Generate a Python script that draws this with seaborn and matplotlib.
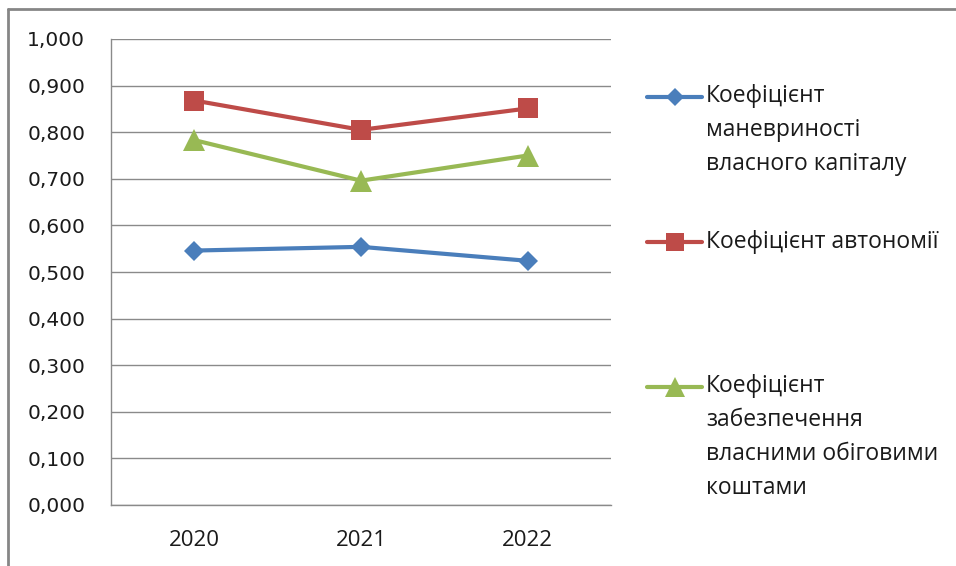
import matplotlib
matplotlib.use("Agg")
import matplotlib.pyplot as plt
from matplotlib.lines import Line2D
from matplotlib.ticker import FuncFormatter, FixedLocator
import seaborn as sns
import pandas as pd

years = ["2020", "2021", "2022"]
series_names = [
    "Коефіцієнт\nманевриності\nвласного капіталу",
    "Коефіцієнт автономії",
    "Коефіцієнт\nзабезпечення\nвласними обіговими\nкоштами",
]
manevr = [0.546, 0.554, 0.524]
avtonom = [0.868, 0.805, 0.851]
zabezp = [0.783, 0.696, 0.750]
y_ticks = [0.0, 0.1, 0.2, 0.3, 0.4, 0.5, 0.6, 0.7, 0.8, 0.9, 1.0]

colors = ["#4A7EBB", "#BE4B48", "#98B954"]
markers = ["D", "s", "^"]
msizes = [10.5, 14.5, 15.5]

sns.set_style("white")
plt.rcParams["font.family"] = ["Open Sans", "DejaVu Sans"]

rows = []
for name, vals in zip(series_names, [manevr, avtonom, zabezp]):
    for yr, v in zip(years, vals):
        rows.append({"year": yr, "value": v, "series": name})
df = pd.DataFrame(rows)

W, H = 956, 566
fig = plt.figure(figsize=(W / 100, H / 100), dpi=100)
ax = fig.add_axes([111 / W, 1 - 505 / H, 500 / W, 466 / H])

for i, name in enumerate(series_names):
    sub = df[df["series"] == name]
    sns.lineplot(data=sub, x="year", y="value", ax=ax, color=colors[i],
                 marker=markers[i], markersize=msizes[i], markeredgewidth=0,
                 linewidth=3.0, legend=False, zorder=3 + i)

ax.set_xlim(-0.5, 2.5)
ax.set_ylim(0, 1.0)
ax.set_xlabel("")
ax.set_ylabel("")

ax.yaxis.set_major_locator(FixedLocator(y_ticks))
ax.yaxis.set_major_formatter(FuncFormatter(lambda v, p: f"{v:.3f}".replace(".", ",")))
ax.grid(axis="y", color="#8a8a8a", linewidth=1.0)
ax.grid(axis="x", visible=False)
ax.set_axisbelow(True)

for s in ["top", "right"]:
    ax.spines[s].set_visible(False)
for s in ["left", "bottom"]:
    ax.spines[s].set_color("#8a8a8a")
    ax.spines[s].set_linewidth(1.0)

ax.tick_params(axis="y", which="major", direction="out", length=6.5, width=1.0,
               color="#8a8a8a", pad=12, labelsize=14.5, labelcolor="#1a1a1a")
for t in ax.get_yticklabels():
    t.set_fontfamily("DejaVu Sans")
ax.xaxis.set_minor_locator(FixedLocator([-0.5, 0.5, 1.5, 2.5]))
ax.tick_params(axis="x", which="major", length=0, pad=18, labelsize=16,
               labelcolor="#1a1a1a")
ax.tick_params(axis="x", which="minor", direction="out", length=7, width=1.0,
               color="#8a8a8a")

# legend (drawn manually to mimic first-line aligned handles)
leg_y = [97, 242, 387]
for i, name in enumerate(series_names):
    yf = 1 - leg_y[i] / H
    fig.add_artist(Line2D([647 / W, 675 / W, 702 / W], [yf, yf, yf],
                          transform=fig.transFigure, color=colors[i],
                          linewidth=3.0, marker=markers[i], markevery=[1],
                          markersize=msizes[i] * 0.9, markeredgewidth=0))
    fig.text(706 / W, 1 - (leg_y[i] - 12.5) / H, name, ha="left", va="top",
             fontsize=16.5, color="#1a1a1a", linespacing=1.55)

# outer frame
fig.add_artist(Line2D([8 / W, 8 / W], [0, 1 - 9 / H], transform=fig.transFigure,
                      color="#868686", linewidth=2.0))
fig.add_artist(Line2D([8 / W, 1], [1 - 9 / H, 1 - 9 / H], transform=fig.transFigure,
                      color="#868686", linewidth=2.0))

fig.savefig("out.png", dpi=100)
